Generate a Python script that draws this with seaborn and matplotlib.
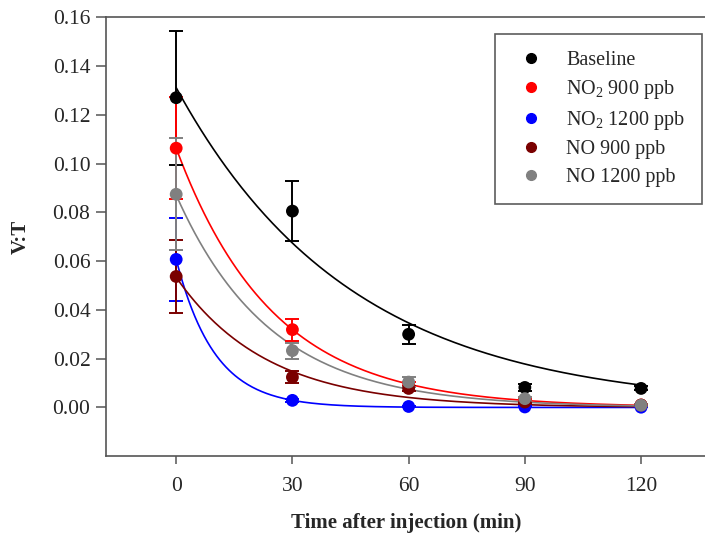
import numpy as np
import pandas as pd
import matplotlib.pyplot as plt
import seaborn as sns
from matplotlib.lines import Line2D

# data
time = [0, 30, 60, 90, 120]
groups = ['Baseline', 'NO$_2$ 900 ppb', 'NO$_2$ 1200 ppb', 'NO 900 ppb', 'NO 1200 ppb']
colors = ['#000000', '#ff0000', '#0000ff', '#7a0000', '#808080']

baseline = [0.127, 0.0805, 0.030, 0.0082, 0.0078]
no2_900 = [0.1063, 0.0319, 0.0095, 0.0030, 0.0010]
no2_1200 = [0.0607, 0.0029, 0.0004, 0.0002, 0.0001]
no_900 = [0.0537, 0.0124, 0.0078, 0.0022, 0.0010]
no_1200 = [0.0874, 0.0233, 0.0104, 0.0036, 0.0009]

baseline_err = [0.0275, 0.0123, 0.0038, 0.0015, 0.0008]
no2_900_err = [0.021, 0.0045, 0.0010, 0.0005, 0.0003]
no2_1200_err = [0.017, 0.0005, 0.0003, 0.0002, 0.0001]
no_900_err = [0.015, 0.0025, 0.0010, 0.0005, 0.0003]
no_1200_err = [0.023, 0.0033, 0.0020, 0.0008, 0.0004]

values = [baseline, no2_900, no2_1200, no_900, no_1200]
errors = [baseline_err, no2_900_err, no2_1200_err, no_900_err, no_1200_err]

rows = []
for g, v, e in zip(groups, values, errors):
    for t, y, s in zip(time, v, e):
        rows.append({'time': t, 'vt': y, 'err': s, 'group': g})
tabela = pd.DataFrame(rows)


# single exponential decay fit y = a*exp(-k t), least squares over k grid
def fit_decay(t, y):
    t = np.asarray(t, float)
    y = np.asarray(y, float)
    best = None
    for k in np.linspace(0.001, 0.3, 6000):
        e = np.exp(-k * t)
        a = (y @ e) / (e @ e)
        sse = np.sum((y - a * e) ** 2)
        if best is None or sse < best[0]:
            best = (sse, a, k)
    return best[1], best[2]


tt = np.linspace(0, 120, 300)
curvas = []
for g, v in zip(groups, values):
    a, k = fit_decay(time, v)
    curvas.append(pd.DataFrame({'time': tt, 'vt': a * np.exp(-k * tt), 'group': g}))
curvas = pd.concat(curvas)

sns.set_style('white')
plt.rcParams['font.family'] = ['Liberation Serif']
plt.rcParams['mathtext.fontset'] = 'custom'
plt.rcParams['mathtext.rm'] = 'Liberation Serif'

fig = plt.figure(figsize=(7.05, 5.38), dpi=100)
ax = fig.add_axes([0.151, 0.152, 0.849, 0.816])

palette = dict(zip(groups, colors))

sns.lineplot(data=curvas, x='time', y='vt', hue='group', palette=palette,
             linewidth=1.2, legend=False, ax=ax, zorder=2)

for g, c in zip(groups, colors):
    d = tabela[tabela['group'] == g]
    ax.errorbar(d['time'], d['vt'], yerr=d['err'], fmt='none', ecolor=c,
                elinewidth=1.4, capsize=5, capthick=1.4, zorder=3)

sns.scatterplot(data=tabela, x='time', y='vt', hue='group', palette=palette,
                s=85, edgecolor='none', legend=False, ax=ax, zorder=4)

ax.set_xlim(-18, 136.5)
ax.set_ylim(-0.02, 0.16)
ax.set_xticks([0, 30, 60, 90, 120])
ax.set_yticks(np.arange(0, 0.161, 0.02))
ax.set_yticklabels([f'{v:.2f}' for v in np.arange(0, 0.161, 0.02)])

for side in ['left', 'bottom', 'top']:
    ax.spines[side].set_color('#555555')
    ax.spines[side].set_linewidth(1.2)
ax.spines['right'].set_visible(False)

ax.tick_params(axis='both', direction='out', width=1.1, color='#555555',
               labelsize=15.5, left=True, bottom=True, top=False, right=False)
ax.tick_params(axis='y', length=7.2, pad=4.3)
ax.tick_params(axis='x', length=5.8, pad=9.5)

ax.set_xlabel('Time after injection (min)', fontsize=15, fontweight='bold', labelpad=12)
ax.set_ylabel('V:T', fontsize=15, fontweight='bold', labelpad=16)

handles = [Line2D([], [], marker='o', linestyle='none', color=c, markersize=7)
           for c in colors]
leg = fig.legend(handles, groups, loc='upper right',
                 bbox_to_anchor=(702 / 705, 1 - 34 / 538), borderaxespad=0,
                 fontsize=14.5, frameon=True, fancybox=False,
                 handletextpad=0.8, labelspacing=0.4, borderpad=0.85,
                 handlelength=1.9)
leg.get_frame().set_edgecolor('#333333')
leg.get_frame().set_linewidth(1.2)

plt.savefig('out.png', dpi=100)
